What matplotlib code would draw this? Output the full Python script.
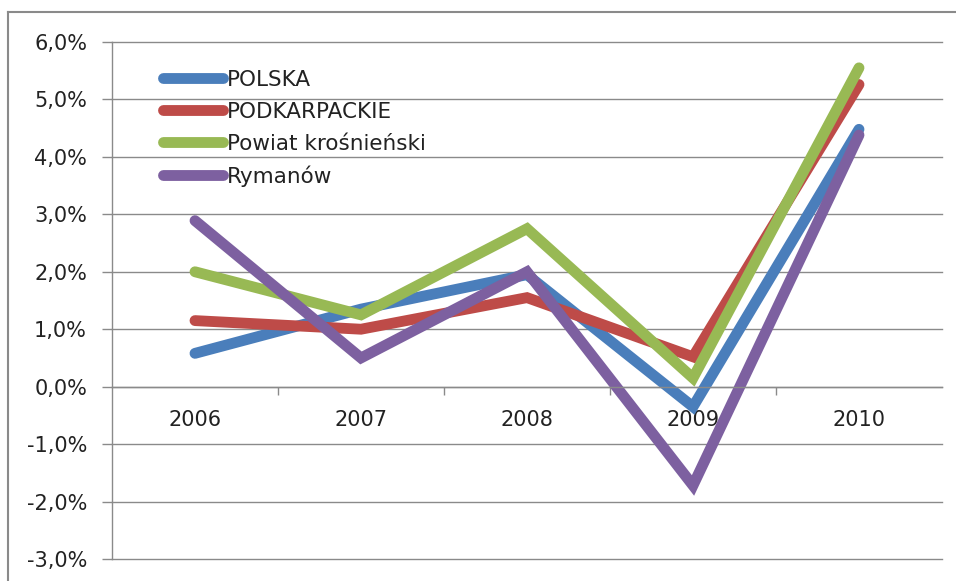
import matplotlib
matplotlib.use("Agg")
import matplotlib.pyplot as plt
from matplotlib.lines import Line2D
from matplotlib.ticker import FuncFormatter

years = ["2006", "2007", "2008", "2009", "2010"]
polska = [0.58, 1.35, 1.95, -0.35, 4.48]
podkarpackie = [1.15, 1.0, 1.55, 0.52, 5.26]
powiat = [2.0, 1.25, 2.75, 0.15, 5.55]
rymanow = [2.89, 0.5, 2.0, -1.72, 4.38]
series_names = ["POLSKA", "PODKARPACKIE", "Powiat krośnieński", "Rymanów"]
colors = ["#4A7EBB", "#BE4B48", "#98B954", "#7D60A0"]

W, H = 956, 581
fig = plt.figure(figsize=(W / 100, H / 100), dpi=100)
ax = fig.add_axes([112 / W, 1 - 559 / H, (942 - 112) / W, (559 - 42) / H])

x = list(range(len(years)))
for vals, name, c in zip([polska, podkarpackie, powiat, rymanow], series_names, colors):
    ax.plot(x, vals, color=c, lw=7.8, solid_capstyle="round", solid_joinstyle="miter", label=name)

ax.set_xlim(-0.5, len(years) - 0.5)
ax.set_ylim(-3, 6)
ax.set_yticks(range(-3, 7))
ax.yaxis.set_major_formatter(FuncFormatter(lambda v, p: f"{v:.1f}%".replace(".", ",")))
ax.grid(axis="y", color="#8A8A8A", lw=1.0)
ax.set_axisbelow(True)
for gl in ax.yaxis.get_gridlines():
    gl.set_clip_on(False)

for s in ["top", "right"]:
    ax.spines[s].set_visible(False)
ax.spines["left"].set_color("#8A8A8A")
ax.spines["left"].set_linewidth(1.0)
ax.spines["bottom"].set_position(("data", 0))
ax.spines["bottom"].set_color("#8A8A8A")
ax.spines["bottom"].set_linewidth(1.0)

ax.set_xticks([i + 0.5 for i in range(len(years) - 1)])
ax.set_xticklabels([])
ax.set_xticks(x, minor=True)
ax.set_xticklabels(years, minor=True)
ax.tick_params(axis="x", which="major", direction="out", length=6, color="#8A8A8A", width=1.0)
ax.tick_params(axis="x", which="minor", length=0, pad=17, labelsize=15, labelcolor="#222222")
ax.tick_params(axis="y", direction="out", length=7, color="#8A8A8A", width=1.0, pad=11,
               labelsize=15, labelcolor="#222222")

leg = ax.legend(loc="upper left", bbox_to_anchor=((163 - 112) / (942 - 112), (559 - 70) / (559 - 42)),
                frameon=False, fontsize=15.5, handlelength=2.8, handletextpad=0.15,
                labelspacing=0.55, borderpad=0, borderaxespad=0)
for t in leg.get_texts():
    t.set_color("#222222")

# outer chart border (top and left)
fig.add_artist(Line2D([8 / W, 1.0], [1 - 12 / H, 1 - 12 / H], transform=fig.transFigure,
                      color="#8A8A8A", lw=1.5))
fig.add_artist(Line2D([8 / W, 8 / W], [0, 1 - 12 / H], transform=fig.transFigure,
                      color="#8A8A8A", lw=1.5))

fig.savefig("out.png", dpi=100)
